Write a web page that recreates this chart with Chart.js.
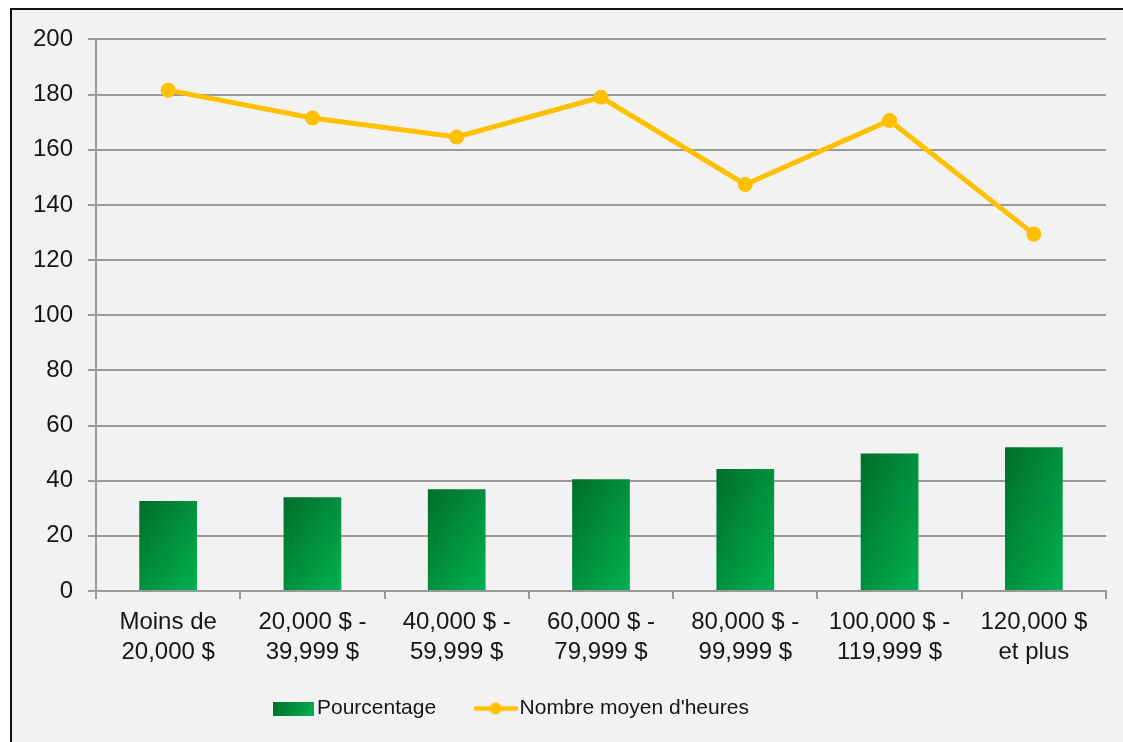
<!DOCTYPE html>
<html>
<head>
<meta charset="utf-8">
<script src="https://cdn.jsdelivr.net/npm/chart.js@4.4.1/dist/chart.umd.min.js"></script>
<style>
    html, body { margin: 0; padding: 0; background: #ffffff; }
    #frame {
        position: absolute;
        left: 10px;
        top: 8px;
        width: 1113px;
        height: 734px;
        border-left: 2px solid #111;
        border-top: 2px solid #111;
        background: #f2f2f2;
    }
    #chart { display: block; }
</style>
</head>
<body>
<div id="frame">
    <canvas id="chart" width="1111" height="732"></canvas>
</div>
<script>
const categories = [
    ["Moins de", "20,000 $"],
    ["20,000 $ -", "39,999 $"],
    ["40,000 $ -", "59,999 $"],
    ["60,000 $ -", "79,999 $"],
    ["80,000 $ -", "99,999 $"],
    ["100,000 $ -", "119,999 $"],
    ["120,000 $", "et plus"],
];
const pourcentage = [32.6, 34.0, 36.9, 40.5, 44.2, 49.9, 52.1];
const heures = [181.6, 171.5, 164.6, 179.0, 147.4, 170.6, 129.4];
const yTicks = [0, 20, 40, 60, 80, 100, 120, 140, 160, 180, 200];

const DARK_GREEN = "#006e2b";
const LIGHT_GREEN = "#00b150";
const GOLD = "#ffc000";
const GRID = "#999999";
const TEXT = "#161616";

// bar fill: diagonal gradient in the bar's own box (dark top-left -> bright bottom-right)
function barFill(ctx) {
    const chart = ctx.chart;
    const x = chart.scales.x, y = chart.scales.y;
    if (!x || !y || ctx.dataIndex === undefined || x.width === undefined) return LIGHT_GREEN;
    const cx = x.getPixelForValue(ctx.dataIndex);
    const w = (x.width / categories.length) * 0.4;
    const top = y.getPixelForValue(pourcentage[ctx.dataIndex]);
    const h = Math.max(1, y.getPixelForValue(0) - top);
    const left = cx - w / 2;
    const k = 2 * w * h / (w * w + h * h);
    const g = chart.ctx.createLinearGradient(left, top, left + h * k, top + w * k);
    g.addColorStop(0, DARK_GREEN);
    g.addColorStop(1, LIGHT_GREEN);
    return g;
}

// legend symbols
function barSymbol() {
    const c = document.createElement("canvas");
    c.width = 41; c.height = 14;
    const g = c.getContext("2d");
    const grad = g.createLinearGradient(0, 0, 41, 14);
    grad.addColorStop(0, DARK_GREEN);
    grad.addColorStop(1, LIGHT_GREEN);
    g.fillStyle = grad;
    g.fillRect(0, 0, 41, 14);
    return c;
}
function lineSymbol() {
    const c = document.createElement("canvas");
    c.width = 44; c.height = 14;
    const g = c.getContext("2d");
    g.strokeStyle = GOLD;
    g.lineWidth = 4.5;
    g.lineCap = "round";
    g.beginPath();
    g.moveTo(2, 7); g.lineTo(42, 7);
    g.stroke();
    g.fillStyle = GOLD;
    g.beginPath();
    g.arc(22, 7, 6, 0, Math.PI * 2);
    g.fill();
    return c;
}
const symbols = [barSymbol(), lineSymbol()];

// put the legend where the original has it
const legendPlace = {
    id: "legendPlace",
    afterLayout(chart) {
        const lg = chart.legend;
        if (!lg) return;
        lg.left = 221.5;
        lg.top = 642;
    }
};

new Chart(document.getElementById("chart"), {
    type: "bar",
    data: {
        labels: categories,
        datasets: [
            {
                type: "bar",
                label: "Pourcentage",
                data: pourcentage,
                backgroundColor: barFill,
                borderWidth: 0,
                barPercentage: 0.4,
                categoryPercentage: 1.0,
            },
            {
                type: "line",
                label: "Nombre moyen d'heures",
                data: heures,
                borderColor: GOLD,
                backgroundColor: GOLD,
                borderWidth: 5,
                pointRadius: 7.5,
                pointBorderWidth: 0,
                pointBackgroundColor: GOLD,
                tension: 0,
                fill: false,
            },
        ],
    },
    options: {
        responsive: false,
        animation: false,
        layout: { padding: { left: 0, top: 24, right: 17, bottom: 0 } },
        plugins: {
            tooltip: { enabled: false },
            legend: {
                position: "bottom",
                align: "start",
                labels: {
                    usePointStyle: true,
                    pointStyleWidth: 27,
                    padding: 46,
                    color: TEXT,
                    font: { family: "'Liberation Sans', Arial, sans-serif", size: 21 },
                    generateLabels(chart) {
                        return chart.data.datasets.map((ds, i) => ({
                            text: ds.label,
                            pointStyle: symbols[i],
                            fillStyle: "transparent",
                            strokeStyle: "transparent",
                            lineWidth: 0,
                            fontColor: TEXT,
                            datasetIndex: i,
                            hidden: false,
                        }));
                    },
                },
            },
        },
        scales: {
            x: {
                grid: {
                    offset: true,
                    drawOnChartArea: false,
                    drawTicks: true,
                    tickLength: 8,
                    color: GRID,
                    lineWidth: 2,
                },
                border: { display: true, color: GRID, width: 2 },
                ticks: {
                    color: TEXT,
                    padding: 8,
                    maxRotation: 0,
                    autoSkip: false,
                    font: { family: "'Liberation Sans', Arial, sans-serif", size: 24, lineHeight: 1.25 },
                },
                afterFit(scale) { scale.height = 74; },
            },
            y: {
                min: 0,
                max: 200,
                afterBuildTicks(scale) { scale.ticks = yTicks.map(v => ({ value: v })); },
                grid: {
                    color: GRID,
                    lineWidth: 2,
                    drawTicks: true,
                    tickLength: 8,
                },
                border: { display: true, color: GRID, width: 2 },
                ticks: {
                    color: TEXT,
                    padding: 15,
                    font: { family: "'Liberation Sans', Arial, sans-serif", size: 24 },
                },
                afterFit(scale) { scale.width = 84; },
            },
        },
    },
    plugins: [legendPlace],
});
</script>
</body>
</html>
